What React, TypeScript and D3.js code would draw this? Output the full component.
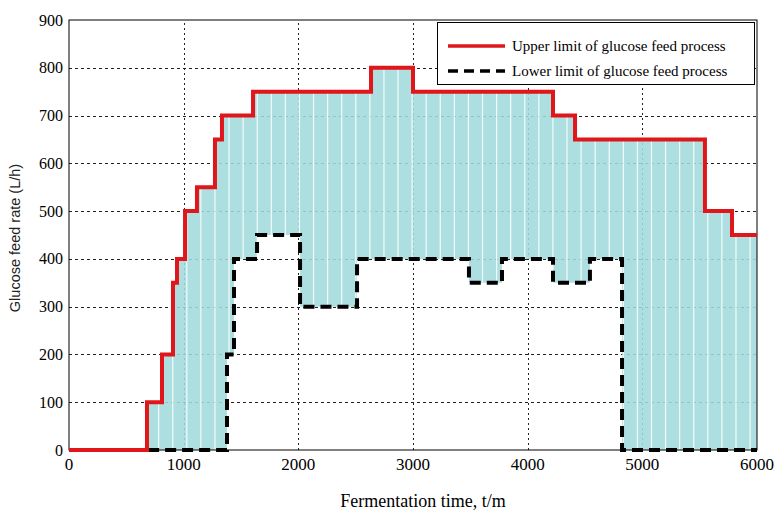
import { useEffect, useRef } from 'react';
import * as d3 from 'd3';

// upper limit: value holds from upperT[i] to upperT[i + 1]
const upperT = [0, 680, 811, 907, 942, 1012, 1116, 1273, 1334, 1605, 2634, 3000, 4221, 4413, 5546, 5782, 6000];
const upperV = [0, 100, 200, 350, 400, 500, 550, 650, 700, 750, 800, 750, 700, 650, 500, 450];

// lower limit
const lowerT = [690, 1378, 1439, 1640, 2015, 2512, 3488, 3776, 4221, 4543, 4823, 6000];
const lowerV = [0, 200, 400, 450, 300, 400, 350, 400, 350, 400, 0];

const xTicks = [0, 1000, 2000, 3000, 4000, 5000, 6000];
const yTicks = [0, 100, 200, 300, 400, 500, 600, 700, 800, 900];

const legendItems = [
  { label: 'Upper limit of glucose feed process', color: '#e0161b', dash: null },
  { label: 'Lower limit of glucose feed process', color: '#000000', dash: '10,6' },
];

const W = 776;
const H = 513;
const serif = '"Liberation Serif", "Times New Roman", serif';

function stepAt(ts: number[], vs: number[], t: number) {
  if (t < ts[0] || t > ts[ts.length - 1]) return 0;
  let i = d3.bisectRight(ts, t) - 1;
  if (i >= vs.length) i = vs.length - 1;
  return vs[Math.max(0, i)];
}

export default function App() {
  const ref = useRef<SVGSVGElement>(null);

  useEffect(() => {
    document.body.style.margin = '0';
    const svg = d3.select(ref.current);
    svg.selectAll('*').remove();

    const x = d3.scaleLinear().domain([0, 6000]).range([69, 757]);
    const y = d3.scaleLinear().domain([0, 900]).range([450, 20]);

    // grid
    const grid = svg.append('g').attr('stroke', '#222').attr('stroke-width', 1);
    grid.selectAll('line.h')
      .data(yTicks.slice(1, -1))
      .join('line')
      .attr('x1', x(0)).attr('x2', x(6000))
      .attr('y1', (d) => Math.round(y(d)) + 0.5).attr('y2', (d) => Math.round(y(d)) + 0.5)
      .attr('stroke-dasharray', '3,3');
    grid.selectAll('line.v')
      .data(xTicks.slice(1, -1))
      .join('line')
      .attr('y1', y(0)).attr('y2', y(900))
      .attr('x1', (d) => Math.round(x(d)) + 0.5).attr('x2', (d) => Math.round(x(d)) + 0.5)
      .attr('stroke-dasharray', '2,3');

    // band between limits
    const breaks = Array.from(new Set([...upperT, ...lowerT])).sort((a, b) => a - b);
    const band = breaks.map((t) => ({ t, lo: stepAt(lowerT, lowerV, t), hi: stepAt(upperT, upperV, t) }));
    const area = d3.area<{ t: number; lo: number; hi: number }>()
      .x((d) => x(d.t))
      .y0((d) => y(d.lo))
      .y1((d) => y(d.hi))
      .curve(d3.curveStepAfter);

    const defs = svg.append('defs');
    defs.append('clipPath').attr('id', 'band-clip')
      .append('path').attr('d', area(band) || '');

    svg.append('path')
      .attr('d', area(band) || '')
      .attr('fill', '#a3dbdc')
      .attr('fill-opacity', 0.88);

    // white seams between the bars of the filled region
    const seams = d3.range(45, 6000, 122.8);
    svg.append('g')
      .attr('clip-path', 'url(#band-clip)')
      .selectAll('line')
      .data(seams)
      .join('line')
      .attr('x1', (d) => x(d)).attr('x2', (d) => x(d))
      .attr('y1', y(900)).attr('y2', y(0))
      .attr('stroke', '#fff')
      .attr('stroke-opacity', 0.85)
      .attr('stroke-width', 1.2);

    // axes box
    svg.append('rect')
      .attr('x', x(0)).attr('y', y(900))
      .attr('width', x(6000) - x(0)).attr('height', y(0) - y(900))
      .attr('fill', 'none').attr('stroke', '#000').attr('stroke-width', 1);

    const line = d3.line<[number, number]>()
      .x((d) => x(d[0]))
      .y((d) => y(d[1]))
      .curve(d3.curveStepAfter);

    const upperPts: [number, number][] = upperV.map((v, i) => [upperT[i], v]);
    upperPts.push([upperT[upperT.length - 1], upperV[upperV.length - 1]]);
    const lowerPts: [number, number][] = lowerV.map((v, i) => [lowerT[i], v]);
    lowerPts.push([lowerT[lowerT.length - 1], lowerV[lowerV.length - 1]]);

    svg.append('path')
      .attr('d', line(lowerPts) || '')
      .attr('fill', 'none')
      .attr('stroke', '#000')
      .attr('stroke-width', 4)
      .attr('stroke-dasharray', '11,6');

    svg.append('path')
      .attr('d', line(upperPts) || '')
      .attr('fill', 'none')
      .attr('stroke', '#e0161b')
      .attr('stroke-width', 4)
      .attr('stroke-linejoin', 'miter');

    // tick labels
    svg.append('g')
      .selectAll('text')
      .data(xTicks)
      .join('text')
      .attr('x', (d) => x(d))
      .attr('y', 470)
      .attr('text-anchor', 'middle')
      .attr('font-family', serif)
      .attr('font-size', 17)
      .text((d) => String(d));

    svg.append('g')
      .selectAll('text')
      .data(yTicks)
      .join('text')
      .attr('x', 63)
      .attr('y', (d) => y(d))
      .attr('dy', '0.35em')
      .attr('text-anchor', 'end')
      .attr('font-family', serif)
      .attr('font-size', 16)
      .text((d) => String(d));

    // axis titles
    svg.append('text')
      .attr('x', 423).attr('y', 507)
      .attr('text-anchor', 'middle')
      .attr('font-family', serif)
      .attr('font-size', 18)
      .text('Fermentation time, t/m');

    svg.append('text')
      .attr('transform', 'translate(20,238) rotate(-90)')
      .attr('text-anchor', 'middle')
      .attr('font-family', '"Liberation Sans", Arial, sans-serif')
      .attr('font-size', 14.5)
      .attr('fill', '#222')
      .text('Glucose feed rate (L/h)');

    // legend
    const lg = svg.append('g');
    lg.append('rect')
      .attr('x', 437.5).attr('y', 22.5).attr('width', 317).attr('height', 62)
      .attr('fill', '#fff').attr('stroke', '#000').attr('stroke-width', 1);
    legendItems.forEach((item, i) => {
      const ly = 46 + i * 25;
      lg.append('line')
        .attr('x1', 448).attr('x2', 505)
        .attr('y1', ly).attr('y2', ly)
        .attr('stroke', item.color)
        .attr('stroke-width', 3.5)
        .attr('stroke-dasharray', item.dash);
      lg.append('text')
        .attr('x', 512).attr('y', ly)
        .attr('dy', '0.32em')
        .attr('font-family', serif)
        .attr('font-size', 15)
        .text(item.label);
    });
  }, []);

  return (
    <div style={{ position: 'absolute', left: 0, top: 0 }}>
      <svg ref={ref} width={W} height={H} viewBox={`0 0 ${W} ${H}`} style={{ display: 'block' }} />
    </div>
  );
}
